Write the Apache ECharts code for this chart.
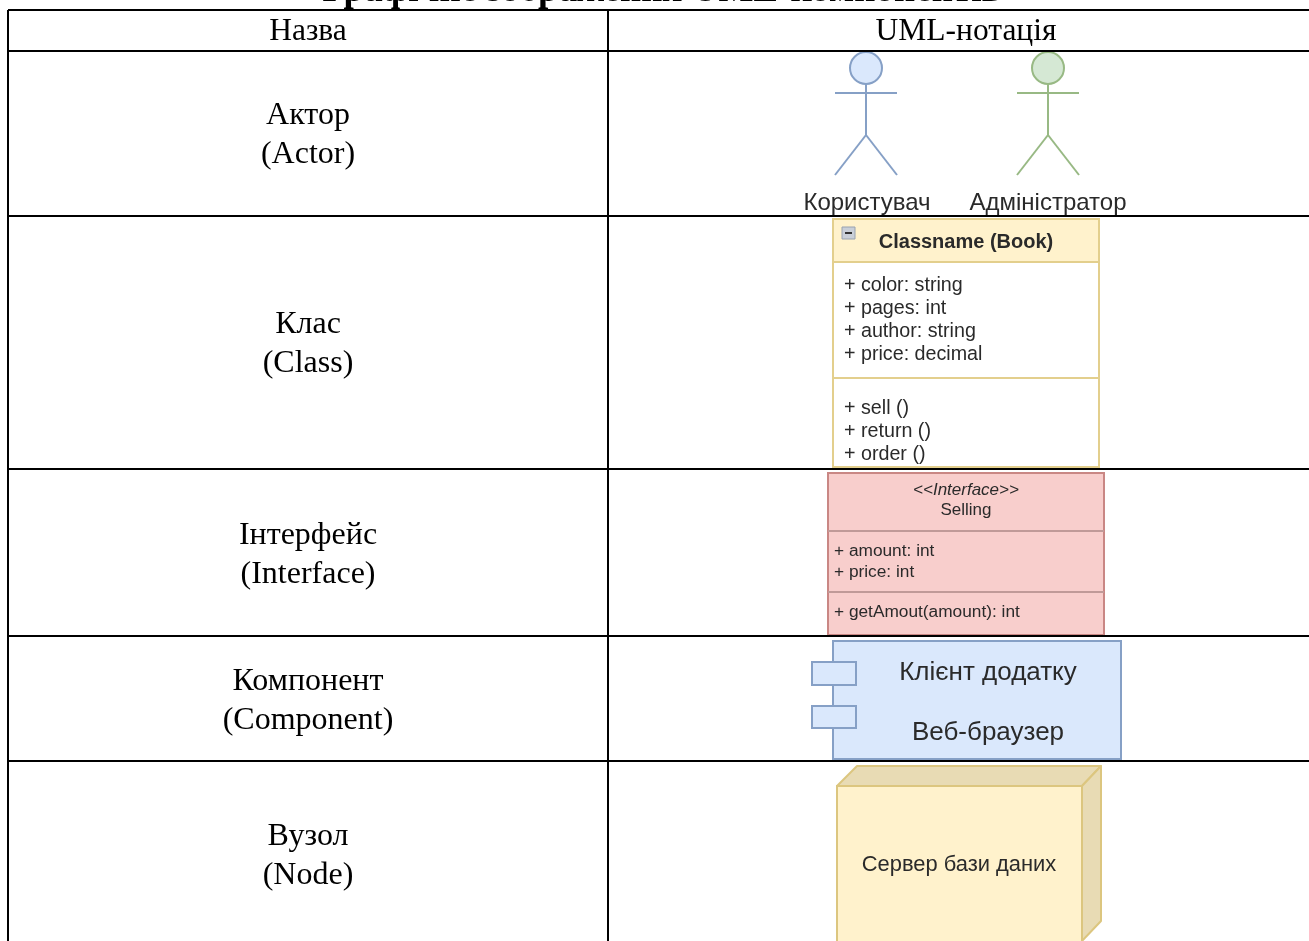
<!DOCTYPE html>
<html>
<head>
<meta charset="utf-8">
<style>
  html, body { margin: 0; padding: 0; background: #fff; overflow: hidden; }
  #chart { width: 1309px; height: 941px; }
</style>
<script src="https://cdn.jsdelivr.net/npm/echarts@6/dist/echarts.min.js"></script>
</head>
<body>
<div id="chart"></div>
<script>
const title = 'Графічне зображення UML-компонентів'
const headers = ['Назва', 'UML-нотація']
const namesUk = ['Актор', 'Клас', 'Інтерфейс', 'Компонент', 'Вузол']
const namesEn = ['(Actor)', '(Class)', '(Interface)', '(Component)', '(Node)']
const actors = ['Користувач', 'Адміністратор']
const className = 'Classname (Book)'
const classAttrs = ['+ color: string', '+ pages: int', '+ author: string', '+ price: decimal']
const classMethods = ['+ sell ()', '+ return ()', '+ order ()']
const ifaceHead = ['<<Interface>>', 'Selling']
const ifaceAttrs = ['+ amount: int', '+ price: int']
const ifaceMethods = ['+ getAmout(amount): int']
const componentLines = ['Клієнт додатку', 'Веб-браузер']
const nodeLabel = 'Сервер бази даних'

const SERIF = '"Liberation Serif", serif'
const SANS = '"Liberation Sans", sans-serif'
const INK = '#2a2a2a'

const chart = echarts.init(document.getElementById('chart'))
const els = []

function text(str, x, y, size, opts = {}) {
  els.push({
    type: 'text', z: opts.z || 10,
    style: {
      text: str, x, y,
      font: `${opts.weight || 'normal'} ${opts.italic ? 'italic ' : ''}${size}px ${opts.family || SANS}`,
      fill: opts.color || INK,
      align: opts.align || 'center',
      verticalAlign: 'middle'
    }
  })
}
function rect(x, y, w, h, fill, stroke, lw = 2) {
  els.push({ type: 'rect', z: 5, shape: { x, y, width: w, height: h }, style: { fill, stroke, lineWidth: lw } })
}
function line(x1, y1, x2, y2, stroke, lw = 2, z = 5) {
  els.push({ type: 'line', z, shape: { x1, y1, x2, y2 }, style: { stroke, lineWidth: lw } })
}
function poly(points, fill, stroke) {
  els.push({ type: 'polygon', z: 5, shape: { points }, style: { fill, stroke, lineWidth: 2, lineJoin: 'round' } })
}

// table
const rowLines = [10, 51, 216, 469, 636, 761]
rowLines.forEach(y => line(8, y, 1309, y, '#000', 2, 8))
line(8, 10, 8, 941, '#000', 2, 8)
line(608, 10, 608, 941, '#000', 2, 8)

text(title, 662, -9, 37, { family: SERIF, weight: 'bold', color: '#000' })
text(headers[0], 308, 32, 31.5, { family: SERIF, color: '#000' })
text(headers[1], 966, 32, 31.5, { family: SERIF, color: '#000' })

const nameY = [116, 325, 536, 682, 837]
namesUk.forEach((n, i) => {
  text(n, 308, nameY[i], 32, { family: SERIF, color: '#000' })
  text(namesEn[i], 308, nameY[i] + 39, 32, { family: SERIF, color: '#000' })
})

// actors
function actor(cx, fill, stroke, label, labelX) {
  els.push({ type: 'circle', z: 5, shape: { cx, cy: 68, r: 16 }, style: { fill, stroke, lineWidth: 2 } })
  line(cx, 84, cx, 135, stroke)
  line(cx - 31, 93, cx + 31, 93, stroke)
  line(cx, 135, cx - 31, 175, stroke)
  line(cx, 135, cx + 31, 175, stroke)
  text(label, labelX, 203, 24)
}
actor(866, '#dae8fc', '#86a0c6', actors[0], 867)
actor(1048, '#d5e8d4', '#98b984', actors[1], 1048)

// class box
rect(833, 219, 266, 248, '#fff', '#e3cf8d')
rect(833, 219, 266, 43, '#fff2cc', '#e3cf8d')
line(833, 378, 1099, 378, '#e3cf8d')
rect(842, 227, 13, 12, '#c9cfd8', '#98a2b0', 1)
line(845, 233, 852, 233, '#333', 2, 6)
text(className, 966, 242, 20, { weight: 'bold' })
classAttrs.forEach((a, i) => text(a, 844, 286 + i * 23, 19.7, { align: 'left' }))
classMethods.forEach((a, i) => text(a, 844, 409 + i * 23, 19.7, { align: 'left' }))

// interface box
rect(828, 473, 276, 162, '#f8cecc', '#c98784')
line(828, 531, 1104, 531, '#c09a98')
line(828, 592, 1104, 592, '#c09a98')
text(ifaceHead[0], 966, 490, 17, { italic: true })
text(ifaceHead[1], 966, 510, 17)
ifaceAttrs.forEach((a, i) => text(a, 834, 551 + i * 21, 17.3, { align: 'left' }))
ifaceMethods.forEach((a, i) => text(a, 834, 612 + i * 21, 17.3, { align: 'left' }))

// component
rect(833, 641, 288, 118, '#dae8fc', '#86a0c6')
rect(812, 662, 44, 23, '#dae8fc', '#86a0c6')
rect(812, 706, 44, 22, '#dae8fc', '#86a0c6')
text(componentLines[0], 988, 673, 26)
text(componentLines[1], 988, 733, 26)

// node
poly([[837, 786], [857, 766], [1101, 766], [1082, 786]], '#e8dbb4', '#dcc67f')
poly([[1082, 786], [1101, 766], [1101, 921], [1082, 941]], '#e8dbb4', '#dcc67f')
rect(837, 786, 245, 160, '#fff2cc', '#dcc67f')
text(nodeLabel, 959, 865, 21.9)

chart.setOption({ animation: false, backgroundColor: '#fff', graphic: { elements: els } })
</script>
</body>
</html>
